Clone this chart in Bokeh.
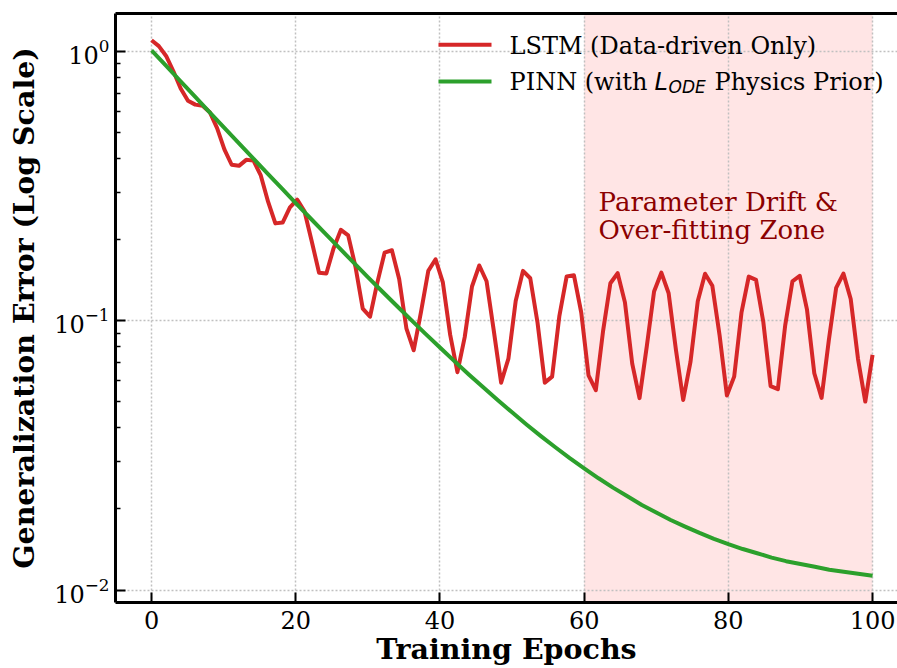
import numpy as np
from bokeh.plotting import figure
from bokeh.models import Range1d, LinearAxis, FixedTicker, BoxAnnotation, Label
from bokeh.embed import file_html
from bokeh.resources import INLINE

# ---- data ----
lstm_epochs = np.linspace(0, 100, 100)
lstm_error = [
    1.1000, 1.0463, 0.9621, 0.8441, 0.7285, 0.6563, 0.6345, 0.6285, 0.5944, 0.5193,
    0.4329, 0.3795, 0.3760, 0.3957, 0.3931, 0.3462, 0.2767, 0.2299, 0.2314, 0.2635,
    0.2815, 0.2550, 0.1969, 0.1507, 0.1497, 0.1860, 0.2176, 0.2075, 0.1587, 0.1109,
    0.1035, 0.1385, 0.1789, 0.1827, 0.1429, 0.0934, 0.0777, 0.1078, 0.1532, 0.1691,
    0.1387, 0.0888, 0.0644, 0.0869, 0.1340, 0.1604, 0.1402, 0.0915, 0.0589, 0.0723,
    0.1183, 0.1532, 0.1438, 0.0983, 0.0589, 0.0620, 0.1043, 0.1460, 0.1475, 0.1073,
    0.0627, 0.0552, 0.0917, 0.1378, 0.1501, 0.1170, 0.0693, 0.0516, 0.0803, 0.1284,
    0.1508, 0.1265, 0.0780, 0.0508, 0.0703, 0.1181, 0.1495, 0.1349, 0.0881, 0.0528,
    0.0620, 0.1071, 0.1458, 0.1419, 0.0989, 0.0572, 0.0557, 0.0959, 0.1401, 0.1469,
    0.1099, 0.0638, 0.0517, 0.0849, 0.1324, 0.1496, 0.1204, 0.0722, 0.0501, 0.0747,
]
pinn_epochs = list(range(0, 101, 2))
pinn_error = [
    1.0100, 0.8852, 0.7759, 0.6803, 0.5967, 0.5234, 0.4593, 0.4032, 0.3542, 0.3112,
    0.2736, 0.2407, 0.2119, 0.1867, 0.1646, 0.1453, 0.1284, 0.1137, 0.1007, 0.0894,
    0.0795, 0.0708, 0.0632, 0.0566, 0.0508, 0.0457, 0.0412, 0.0373, 0.0339, 0.0309,
    0.0283, 0.0260, 0.0240, 0.0223, 0.0207, 0.0194, 0.0182, 0.0172, 0.0163, 0.0155,
    0.0148, 0.0142, 0.0137, 0.0132, 0.0128, 0.0125, 0.0122, 0.0119, 0.0117, 0.0115,
    0.0113,
]
x_ticks = [0, 20, 40, 60, 80, 100]
y_ticks = [0.01, 0.1, 1.0]
y_minor_ticks = [0.02, 0.03, 0.04, 0.05, 0.06, 0.07, 0.08, 0.09,
                 0.2, 0.3, 0.4, 0.5, 0.6, 0.7, 0.8, 0.9]
zone_start, zone_end = 60, 100

lstm_label = "LSTM (Data-driven Only)"
pinn_label_parts = ["PINN (with", "L", "ODE", "Physics Prior)"]
zone_text = ["Parameter Drift &", "Over-fitting Zone"]
x_title = "Training Epochs"
y_title = "Generalization Error (Log Scale)"

RED = "#d62728"
GREEN = "#2ca02c"
SERIF = "DejaVu Serif"

p = figure(width=897, height=668, y_axis_type="log",
           x_range=Range1d(-5, 103.46), y_range=Range1d(0.00899, 1.383),
           output_backend="svg", toolbar_location=None,
           min_border_left=115, min_border_right=0,
           min_border_top=13, min_border_bottom=66)
p.outline_line_color = None
p.background_fill_color = "white"
p.border_fill_color = "white"

# axes
xt = FixedTicker(ticks=x_ticks)
yt = FixedTicker(ticks=y_ticks, minor_ticks=y_minor_ticks)
xa = p.xaxis[0]
ya = p.yaxis[0]
xa.ticker = xt
ya.ticker = yt
p.xgrid[0].ticker = xt
p.ygrid[0].ticker = yt
for ax in (xa, ya):
    ax.axis_line_width = 3
    ax.axis_line_color = "black"
    ax.major_tick_in = 10
    ax.major_tick_out = 0
    ax.major_tick_line_width = 2
    ax.major_tick_line_color = "black"
    ax.major_label_text_font = SERIF
    ax.major_label_text_font_size = "24px"
    ax.major_label_text_color = "black"
    ax.axis_label_text_font = SERIF
    ax.axis_label_text_font_style = "bold"
    ax.axis_label_text_font_size = "28.5px"
    ax.axis_label_text_color = "black"
xa.minor_tick_line_color = None
xa.major_label_standoff = 8
xa.axis_label = x_title
xa.axis_label_standoff = 0
ya.minor_tick_in = 5
ya.minor_tick_out = 0
ya.minor_tick_line_width = 1.5
ya.minor_tick_line_color = "black"
ya.major_label_standoff = 6
ya.axis_label = y_title
ya.axis_label_standoff = 10

top = LinearAxis(ticker=FixedTicker(ticks=[]), major_label_text_font_size="0px",
                 axis_line_width=3, axis_line_color="black",
                 major_tick_line_color=None, minor_tick_line_color=None,
                 major_label_standoff=0, major_tick_out=0, minor_tick_out=0)
p.add_layout(top, "above")

for g in (p.xgrid[0], p.ygrid[0]):
    g.grid_line_color = "#c0c0c0"
    g.grid_line_width = 1.5
    g.grid_line_dash = "2 2"

# over-fitting zone
p.add_layout(BoxAnnotation(left=zone_start, right=zone_end, fill_color="red",
                           fill_alpha=0.1, line_color=None, level="image"))

# series
p.line(lstm_epochs, lstm_error, line_color=RED, line_width=4, line_join="round")
p.line(pinn_epochs, pinn_error, line_color=GREEN, line_width=4, line_join="round")

# manual legend (frame-relative screen units)
def sample(bottom, top_, color):
    return BoxAnnotation(left=323, right=376, bottom=bottom, top=top_,
                         left_units="screen", right_units="screen",
                         bottom_units="screen", top_units="screen",
                         fill_color=color, fill_alpha=1.0, line_color=None)

p.add_layout(sample(555.7, 559.7, RED))
p.add_layout(sample(519, 523, GREEN))

def lab(text, x, y, font=SERIF, size=24.0, style="normal", color="black",
        xu="screen", align="left"):
    # y is the wanted baseline; the label is anchored on its middle
    return Label(text=text, x=x, y=y + 0.346 * size, x_units=xu, y_units="screen",
                 text_font=font, text_font_size=f"{size}px", text_font_style=style,
                 text_color=color, text_baseline="middle", text_align=align)

p.add_layout(lab(lstm_label, 394, 548.5))
p.add_layout(lab(pinn_label_parts[0], 394, 512))
p.add_layout(lab(pinn_label_parts[1], 539, 512, font="DejaVu Sans", style="italic"))
p.add_layout(lab(pinn_label_parts[2], 553, 509.7, font="DejaVu Sans", size=17.0, style="italic"))
p.add_layout(lab(pinn_label_parts[3], 599, 512))

# zone annotation
p.add_layout(lab(zone_text[0], 62, 392, size=26.0, color="#8b0000", xu="data"))
p.add_layout(lab(zone_text[1], 62, 363.7, size=26.0, color="#8b0000", xu="data"))

open("out.html", "w").write(file_html(p, INLINE))
